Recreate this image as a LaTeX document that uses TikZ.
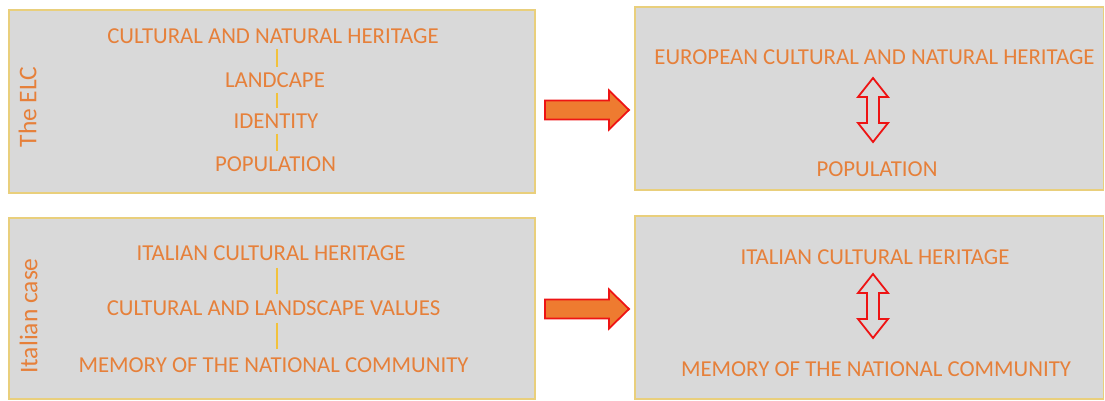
\documentclass[tikz,border=0pt]{standalone}
\usepackage{fontspec}
\setmainfont{Carlito}
\usetikzlibrary{calc}
\begin{document}
\definecolor{panelfill}{HTML}{D9D9D9}
\definecolor{panelrule}{HTML}{E9CF7C}
\definecolor{inktext}{HTML}{E6803A}
\definecolor{linkgold}{HTML}{F2C23C}
\definecolor{arrowfill}{HTML}{EE7B30}
\definecolor{arrowrule}{HTML}{EE1414}
\begin{tikzpicture}[x=1pt,y=-1pt,
  panel/.style={draw=panelrule,fill=panelfill,line width=1.2pt,inner sep=0pt},
  term/.style={inner sep=0pt,text=inktext,font=\fontsize{22.8}{24}\selectfont},
  side/.style={inner sep=0pt,text=inktext,rotate=90,font=\fontsize{25.5}{27}\selectfont},
  link/.style={draw=linkgold,line width=1.2pt,shorten <=5pt,shorten >=5pt},
  blockarrow/.style={draw=arrowrule,fill=arrowfill,line width=1.8pt,line join=miter},
  twoway/.style={draw=arrowrule,fill=panelfill,line width=1.8pt,line join=miter}]
\useasboundingbox (0,0) rectangle (1105,401);

% panels
\node[panel,minimum width=526pt,minimum height=183pt] (elc) at (272,101.5) {};
\node[panel,minimum width=468.5pt,minimum height=183pt] (europe) at (869.25,98.5) {};
\node[panel,minimum width=526pt,minimum height=181pt] (italy) at (272,308.5) {};
\node[panel,minimum width=468.5pt,minimum height=183pt] (heritage) at (869.25,307.5) {};

% side titles
\node[side] (elctitle) at (27.5,107) {The ELC};
\node[side] (italytitle) at (28.5,316) {Italian case};

% the ELC chain
\coordinate (axisA) at (277,0);
\node[term] (a1) at (273,36) {CULTURAL AND NATURAL HERITAGE};
\node[term] (a2) at (275,80) {LANDCAPE};
\node[term] (a3) at (276,121) {IDENTITY};
\node[term] (a4) at (275.5,164) {POPULATION};
\draw[link] (a1.south -| axisA) -- (a2.north -| axisA);
\draw[link] (a2.south -| axisA) -- (a3.north -| axisA);
\draw[link] (a3.south -| axisA) -- (a4.north -| axisA);

% Italian chain
\node[term] (b1) at (271,253) {ITALIAN CULTURAL HERITAGE};
\node[term] (b2) at (273.5,308) {CULTURAL AND LANDSCAPE VALUES};
\node[term] (b3) at (273.5,365) {MEMORY OF THE NATIONAL COMMUNITY};
\draw[link,shorten <=7pt,shorten >=6pt] (b1.south -| axisA) -- (b2.north -| axisA);
\draw[link,shorten <=7pt,shorten >=8pt] (b2.south -| axisA) -- (b3.north -| axisA);

% right-hand summaries
\node[term] (c1) at (874.5,57) {EUROPEAN CULTURAL AND NATURAL HERITAGE};
\node[term] (c2) at (877,169) {POPULATION};
\node[term] (d1) at (875,257) {ITALIAN CULTURAL HERITAGE};
\node[term] (d2) at (876,369) {MEMORY OF THE NATIONAL COMMUNITY};

% two-way arrows between the summary terms
\coordinate (twA) at (873,110);
\coordinate (twB) at (873,306);
\foreach \c in {twA,twB}{
  \draw[twoway] ($(\c)+(0,-32)$) -- ++(15,19) -- ++(-9,0) -- ++(0,26)
    -- ++(9,0) -- ++(-15,19) -- ++(-15,-19) -- ++(9,0) -- ++(0,-26)
    -- ++(-9,0) -- cycle;
}

% block arrows from the left panels to the right panels
\coordinate (baA) at (545,109);
\coordinate (baB) at (545,308);
\foreach \c in {baA,baB}{
  \draw[blockarrow] ($(\c)+(0,-8.5)$) -- ++(64,0) -- ++(0,-10) -- ++(20,19.5)
    -- ++(-20,19.5) -- ++(0,-10) -- ++(-64,0) -- cycle;
}
\end{tikzpicture}
\end{document}
